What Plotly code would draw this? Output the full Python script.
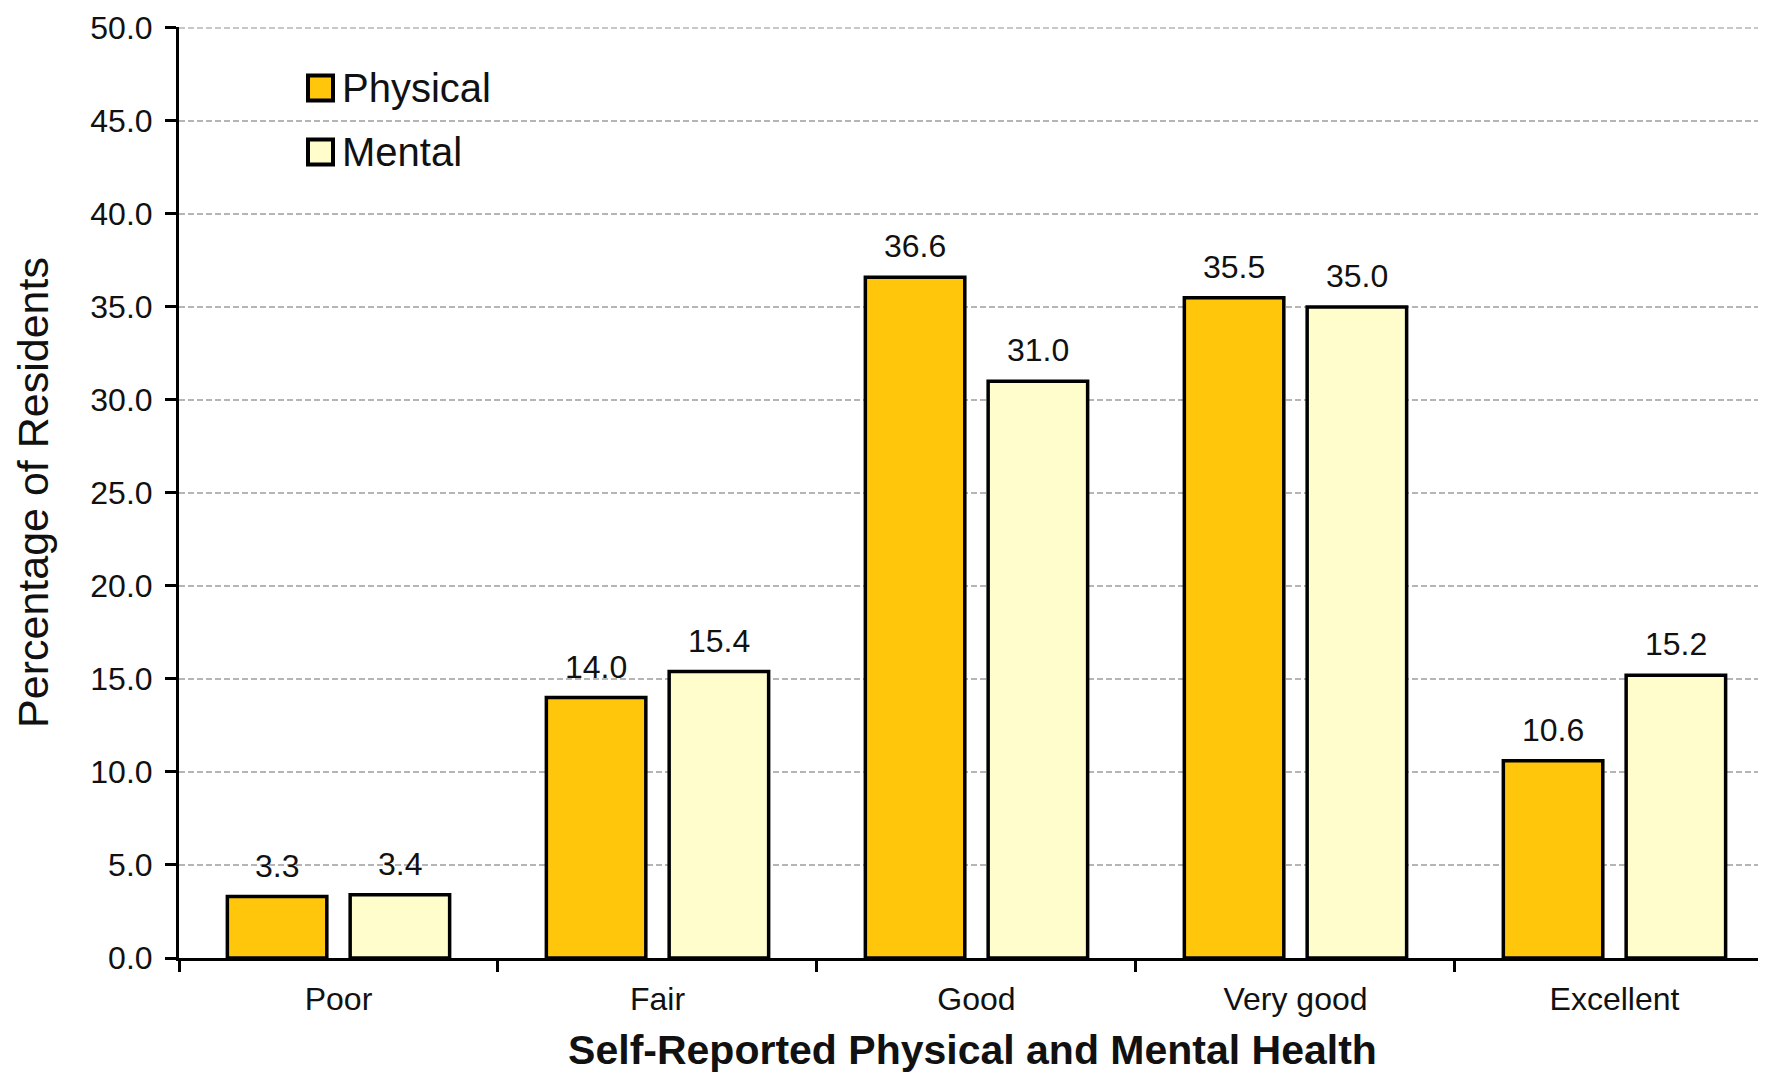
import plotly.graph_objects as go

# ---- data ----
categories = ["Poor", "Fair", "Good", "Very good", "Excellent"]
series_names = ["Physical", "Mental"]
physical = [3.3, 14.0, 36.6, 35.5, 10.6]
mental = [3.4, 15.4, 31.0, 35.0, 15.2]
y_tick_values = [0, 5, 10, 15, 20, 25, 30, 35, 40, 45, 50]
y_tick_labels = ["0.0", "5.0", "10.0", "15.0", "20.0", "25.0", "30.0", "35.0", "40.0", "45.0", "50.0"]

# ---- style ----
PAGE_OFFSET = 8          # default body margin of the html page
W, H = 1766 - PAGE_OFFSET, 1073 - PAGE_OFFSET
ML, MR, MT, MB = 171, 0, 19, 115
BARGAP, GROUPGAP = 0.23, 0.19
colors = ["#FFC60B", "#FFFDCC"]
FONT = "Liberation Sans, Arial, sans-serif"
GRID_COLOR = "#B5B5B5"

plot_w = W - ML - MR
plot_h = H - MT - MB


def px_to_paper_x(px):
    return (px - PAGE_OFFSET - ML) / plot_w


def px_to_paper_y(py):
    return (H - MB - (py - PAGE_OFFSET)) / plot_h


fig = go.Figure()
all_series = [physical, mental]
for name, vals, col in zip(series_names, all_series, colors):
    fig.add_trace(go.Bar(
        x=categories, y=vals, name=name,
        marker=dict(color=col, line=dict(color="black", width=3.5)),
        showlegend=False,
    ))

# value labels above bars
annotations = []
slot = (1 - BARGAP) / 2
for j, vals in enumerate(all_series):
    off = (j - 0.5) * slot
    for i, v in enumerate(vals):
        annotations.append(dict(
            x=i + off, y=v, xref="x", yref="y", text=f"{v:.1f}",
            showarrow=False, yanchor="bottom", xanchor="center", yshift=11,
            font=dict(family=FONT, size=32, color="#111111"),
        ))

# top gridline (at the upper end of the range)
shapes = [dict(
    type="line", xref="paper", yref="y", x0=0, x1=1,
    y0=y_tick_values[-1], y1=y_tick_values[-1],
    line=dict(color=GRID_COLOR, width=1.5, dash="6px,3px"), layer="below",
)]

# manual legend (large boxed swatches)
legend_rows = [88, 152]
for name, col, cy in zip(series_names, colors, legend_rows):
    shapes.append(dict(
        type="rect", xref="paper", yref="paper",
        x0=px_to_paper_x(308), x1=px_to_paper_x(333),
        y0=px_to_paper_y(cy + 12.5), y1=px_to_paper_y(cy - 12.5),
        fillcolor=col, line=dict(color="black", width=4), layer="above",
    ))
    annotations.append(dict(
        x=px_to_paper_x(340), y=px_to_paper_y(cy), xref="paper", yref="paper",
        text=name, showarrow=False, xanchor="left", yanchor="middle",
        font=dict(family=FONT, size=40, color="#111111"),
    ))

fig.update_layout(
    width=W, height=H,
    margin=dict(l=ML, r=MR, t=MT, b=MB, pad=0),
    paper_bgcolor="white", plot_bgcolor="white",
    barmode="group", bargap=BARGAP, bargroupgap=GROUPGAP,
    font=dict(family=FONT, color="#111111"),
    shapes=shapes, annotations=annotations,
    showlegend=False,
)

fig.update_xaxes(
    type="category", range=[-0.5, 4.475], automargin=False,
    showline=True, linecolor="black", linewidth=3,
    ticks="outside", tickson="boundaries", ticklen=11, tickwidth=3, tickcolor="black",
    ticklabelstandoff=11,
    tickfont=dict(family=FONT, size=32, color="#111111"),
    showgrid=False, zeroline=False,
    title=dict(text="<b>Self-Reported Physical and Mental Health</b>",
               font=dict(family=FONT, size=41, color="#111111"), standoff=21),
)
fig.update_yaxes(
    range=[0, 50.05], tickvals=y_tick_values, ticktext=y_tick_labels, automargin=False,
    showline=True, linecolor="black", linewidth=3,
    ticks="outside", ticklen=11, tickwidth=3, tickcolor="black",
    ticklabelstandoff=6,
    tickfont=dict(family=FONT, size=32, color="#111111"),
    showgrid=True, gridcolor=GRID_COLOR, gridwidth=1.5, griddash="6px,3px",
    zeroline=False,
    title=dict(text="Percentage of Residents",
               font=dict(family=FONT, size=43, color="#111111"), standoff=29),
)

fig.write_html("out.html")
